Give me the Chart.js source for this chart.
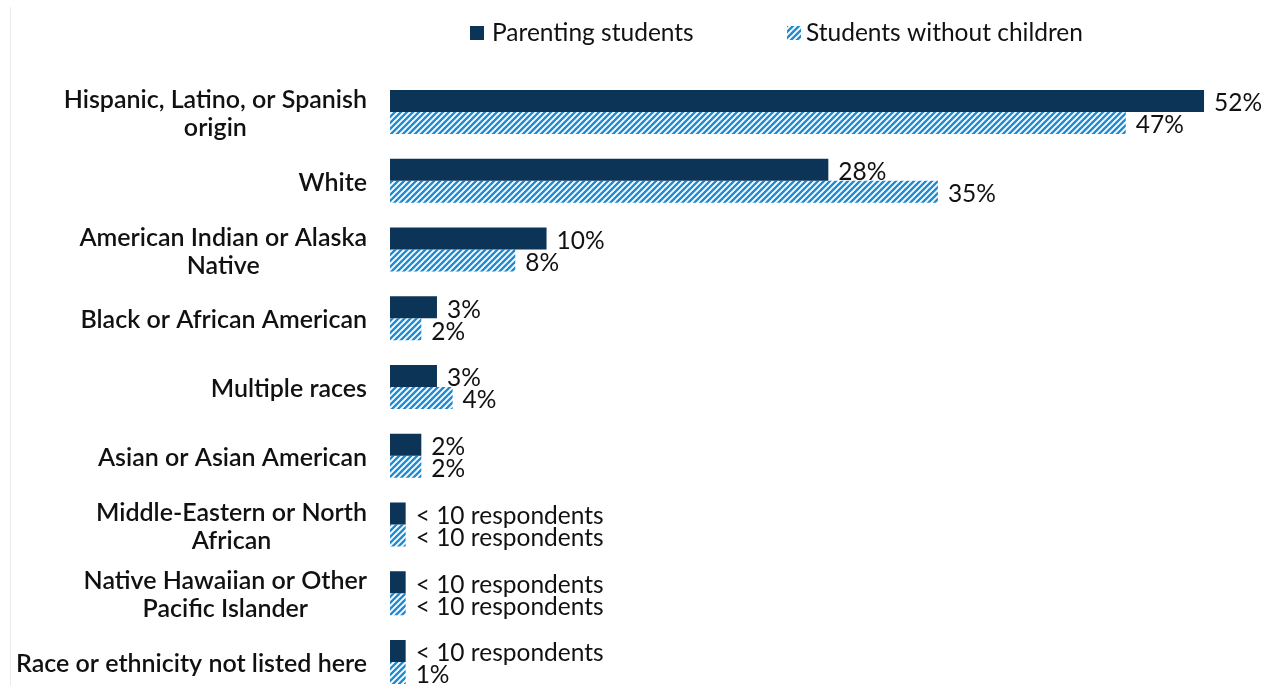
<!DOCTYPE html>
<html>
<head>
<meta charset="utf-8">
<script src="https://cdn.jsdelivr.net/npm/chart.js@4"></script>
<style>
  html, body { margin: 0; padding: 0; background: #fff; overflow: hidden; }
  #wrap { position: relative; width: 1265px; height: 700px; }
  #edge { position: absolute; left: 10px; top: 7px; width: 1px; height: 700px; background: #ececec; }
  #chart { position: absolute; left: 0; top: 0; }
</style>
</head>
<body>
<div id="wrap">
  <div id="edge"></div>
  <canvas id="chart" width="1265" height="700"></canvas>
</div>
<script>
// Categories (multi-line labels as arrays)
const categories = [
  ['Hispanic, Latino, or Spanish', 'origin'],
  'White',
  ['American Indian or Alaska', 'Native'],
  'Black or African American',
  'Multiple races',
  'Asian or Asian American',
  ['Middle-Eastern or North', 'African'],
  ['Native Hawaiian or Other', 'Pacific Islander'],
  'Race or ethnicity not listed here'
];

// Share of respondents (%); null marks a cell with fewer than 10 respondents
const parentingValues = [52, 28, 10, 3, 3, 2, null, null, null];
const withoutChildrenValues = [47, 35, 8, 2, 4, 2, null, null, 1];

// Small stub length used for suppressed cells
const suppressedStub = 1;
const suppressedLabel = '< 10 respondents';

const seriesNames = ['Parenting students', 'Students without children'];

const navy = '#0b3457';
const hatchBlue = '#1f8bd2';

function makeHatch() {
  const s = 6;
  const c = document.createElement('canvas');
  c.width = s; c.height = s;
  const g = c.getContext('2d');
  g.fillStyle = hatchBlue;
  g.fillRect(0, 0, s, s);
  g.strokeStyle = '#ffffff';
  g.lineWidth = 1.9;
  g.beginPath();
  g.moveTo(-1, 1); g.lineTo(1, -1);
  g.moveTo(0, s); g.lineTo(s, 0);
  g.moveTo(s - 1, s + 1); g.lineTo(s + 1, s - 1);
  g.stroke();
  return g.createPattern(c, 'repeat');
}
const hatch = makeHatch();

const barData = vals => vals.map(v => v === null ? suppressedStub : v);
const barLabels = vals => vals.map(v => v === null ? suppressedLabel : v + '%');

const FONT = 'Lato, "Open Sans", sans-serif';

// Category labels: each block right-aligned to the axis, lines centred within it
const categoryLabels = {
  id: 'categoryLabels',
  afterDraw(chart) {
    const ctx = chart.ctx;
    const yScale = chart.scales.y;
    const rightEdge = yScale.right - 23;
    const lineGap = 28;
    ctx.save();
    ctx.font = '600 25px ' + FONT;
    ctx.fillStyle = '#111';
    ctx.textAlign = 'center';
    ctx.textBaseline = 'middle';
    chart.data.labels.forEach((lab, i) => {
      const lines = Array.isArray(lab) ? lab : [lab];
      const w = Math.max(...lines.map(l => ctx.measureText(l).width));
      const cx = rightEdge - w / 2;
      const cy = yScale.getPixelForTick(i) + 2;
      const y0 = cy - (lines.length - 1) * lineGap / 2;
      lines.forEach((l, k) => ctx.fillText(l, cx, y0 + k * lineGap));
    });
    ctx.restore();
  }
};

// Value labels at the end of each bar
const valueLabels = {
  id: 'valueLabels',
  afterDatasetsDraw(chart) {
    const ctx = chart.ctx;
    ctx.save();
    ctx.font = '24.5px ' + FONT;
    ctx.fillStyle = '#111';
    ctx.textAlign = 'left';
    ctx.textBaseline = 'middle';
    chart.data.datasets.forEach((ds, di) => {
      const meta = chart.getDatasetMeta(di);
      meta.data.forEach((bar, i) => {
        ctx.fillText(ds.valueText[i], bar.x + 10, bar.y + 2.5);
      });
    });
    ctx.restore();
  }
};

// Legend row across the top
const topLegend = {
  id: 'topLegend',
  afterDraw(chart) {
    const ctx = chart.ctx;
    const items = [
      { x: 470, textX: 492, fill: navy, text: seriesNames[0] },
      { x: 787, textX: 806, fill: hatch, text: seriesNames[1] }
    ];
    ctx.save();
    ctx.font = '24.5px ' + FONT;
    ctx.textBaseline = 'middle';
    items.forEach(it => {
      ctx.fillStyle = it.fill;
      ctx.fillRect(it.x, 26, 14, 14);
      ctx.fillStyle = '#111';
      ctx.fillText(it.text, it.textX, 33);
    });
    ctx.restore();
  }
};

new Chart(document.getElementById('chart'), {
  type: 'bar',
  data: {
    labels: categories,
    datasets: [
      {
        label: seriesNames[0],
        data: barData(parentingValues),
        valueText: barLabels(parentingValues),
        backgroundColor: navy,
        borderWidth: 0
      },
      {
        label: seriesNames[1],
        data: barData(withoutChildrenValues),
        valueText: barLabels(withoutChildrenValues),
        backgroundColor: hatch,
        borderWidth: 0
      }
    ]
  },
  options: {
    indexAxis: 'y',
    responsive: false,
    animation: false,
    layout: { padding: { top: 77.6, bottom: 3.7, left: 0, right: 14 } },
    datasets: { bar: { categoryPercentage: 0.64, barPercentage: 1.0 } },
    scales: {
      x: { display: false, min: 0, max: 55 },
      y: {
        grid: { display: false, drawTicks: false },
        border: { display: false },
        ticks: { display: false },
        afterFit(scale) {
          scale.width = 390;
          scale.paddingTop = 0;
          scale.paddingBottom = 0;
        }
      }
    },
    plugins: {
      legend: { display: false },
      tooltip: { enabled: false }
    }
  },
  plugins: [categoryLabels, valueLabels, topLegend]
});
</script>
</body>
</html>
